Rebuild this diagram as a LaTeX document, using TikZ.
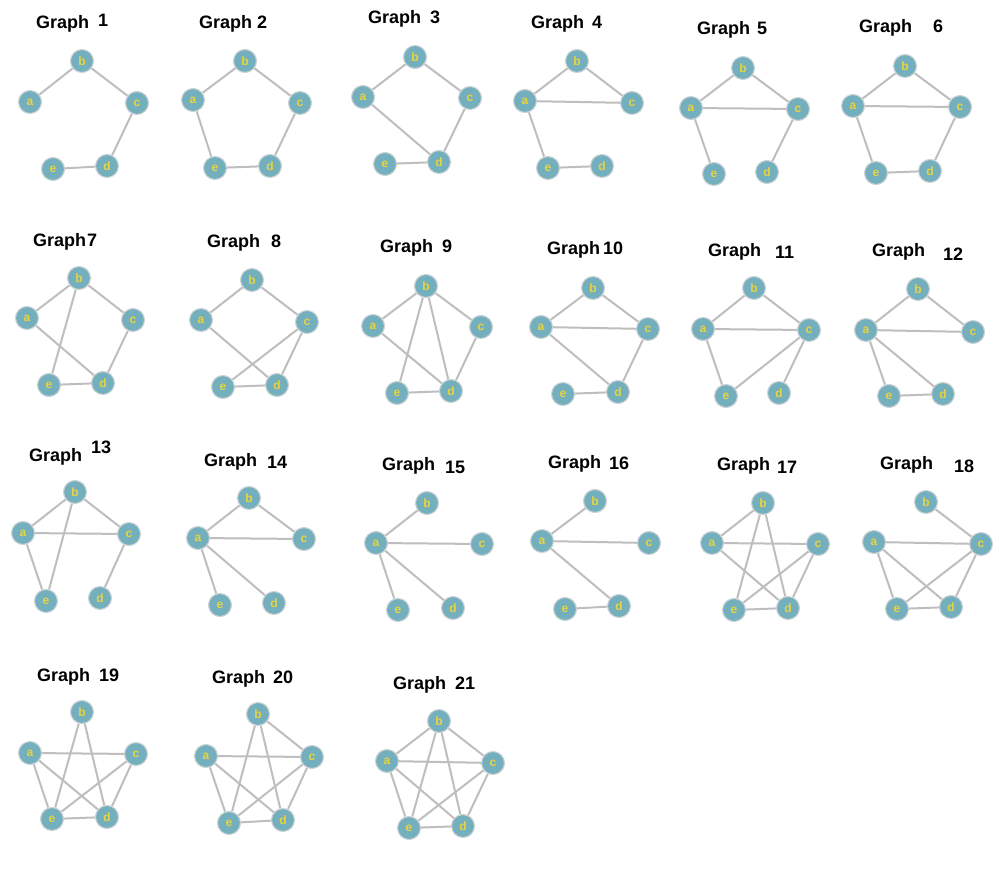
\documentclass[tikz,border=0pt]{standalone}
\usepackage{fontspec}
\setmainfont{Liberation Sans}
\setsansfont{Liberation Sans}
\definecolor{vtxfill}{RGB}{116,175,189}
\definecolor{vtxline}{RGB}{205,210,214}
\definecolor{vtxtext}{RGB}{232,212,62}
\definecolor{edgegray}{RGB}{190,190,190}
\tikzset{
    vtx/.style={circle,fill=vtxfill,draw=vtxline,line width=1.1pt,minimum size=23pt,inner sep=0pt,
        text=vtxtext,font=\fontsize{12}{12}\selectfont\bfseries},
    edge/.style={draw=edgegray,line width=2pt},
    ttl/.style={anchor=base west,inner sep=0pt,font=\fontsize{18}{20}\selectfont\bfseries}
}
\newcommand\PentaGraph[7]{%
    \node[vtx] (#1a) at #2 {a};
    \node[vtx] (#1b) at #3 {b};
    \node[vtx] (#1c) at #4 {c};
    \node[vtx] (#1d) at #5 {d};
    \node[vtx] (#1e) at #6 {e};
    \foreach \u/\v in {#7} \draw[edge] (#1\u) -- (#1\v);
}
\newcommand\GraphTitle[3]{%
    \node[ttl] (title#3) at #1 {Graph};
    \node[ttl] (num#3) at #2 {#3};
}
\begin{document}
\begin{tikzpicture}[x=1pt,y=-1pt]
    \useasboundingbox[fill=white] (0,0) rectangle (1000,874);
    % row 1
    \GraphTitle{(36,29)}{(98,27)}{1}
    \PentaGraph{g1}{(30,102)}{(82,61)}{(137,103)}{(107,166)}{(53,169)}{a/b,b/c,c/d,d/e}
    \GraphTitle{(199,29)}{(257,29)}{2}
    \PentaGraph{g2}{(193,100)}{(245,61)}{(300,103)}{(270,166)}{(215,168)}{a/b,b/c,c/d,d/e,e/a}
    \GraphTitle{(368,24)}{(430,24)}{3}
    \PentaGraph{g3}{(363,97)}{(415,57)}{(470,98)}{(439,162)}{(385,164)}{a/b,b/c,c/d,a/d,e/d}
    \GraphTitle{(531,29)}{(592,29)}{4}
    \PentaGraph{g4}{(525,101)}{(577,61)}{(632,103)}{(602,166)}{(548,168)}{a/b,b/c,a/c,a/e,e/d}
    \GraphTitle{(697,35)}{(757,35)}{5}
    \PentaGraph{g5}{(691,108)}{(743,68)}{(798,109)}{(767,172)}{(714,174)}{a/b,b/c,a/c,a/e,c/d}
    \GraphTitle{(859,33)}{(933,33)}{6}
    \PentaGraph{g6}{(853,106)}{(905,66)}{(960,107)}{(930,171)}{(876,173)}{a/b,b/c,a/c,a/e,e/d,d/c}
    % row 2
    \GraphTitle{(33,247)}{(87,247)}{7}
    \PentaGraph{g7}{(27,318)}{(79,278)}{(133,320)}{(103,383)}{(49,385)}{a/b,b/c,c/d,a/d,b/e,e/d}
    \GraphTitle{(207,248)}{(271,248)}{8}
    \PentaGraph{g8}{(201,320)}{(252,280)}{(307,322)}{(277,385)}{(223,387)}{a/b,b/c,c/d,a/d,c/e,e/d}
    \GraphTitle{(380,253)}{(442,253)}{9}
    \PentaGraph{g9}{(373,326)}{(426,286)}{(481,327)}{(451,391)}{(397,393)}{a/b,b/c,c/d,a/d,b/e,b/d,e/d}
    \GraphTitle{(547,255)}{(603,255)}{10}
    \PentaGraph{g10}{(541,327)}{(593,288)}{(648,329)}{(618,392)}{(563,394)}{a/b,b/c,a/c,c/d,a/d,e/d}
    \GraphTitle{(708,257)}{(775,259)}{11}
    \PentaGraph{g11}{(703,329)}{(754,288)}{(809,330)}{(779,393)}{(726,396)}{a/b,b/c,a/c,a/e,c/e,c/d}
    \GraphTitle{(872,257)}{(943,261)}{12}
    \PentaGraph{g12}{(866,330)}{(918,289)}{(973,332)}{(943,394)}{(889,396)}{a/b,b/c,a/c,a/e,a/d,e/d}
    % row 3
    \GraphTitle{(29,461)}{(91,453)}{13}
    \PentaGraph{g13}{(23,533)}{(75,492)}{(129,534)}{(100,598)}{(46,601)}{a/b,b/c,a/c,a/e,b/e,c/d}
    \GraphTitle{(204,466)}{(267,468)}{14}
    \PentaGraph{g14}{(198,538)}{(249,498)}{(304,539)}{(274,603)}{(220,605)}{a/b,b/c,a/c,a/e,a/d}
    \GraphTitle{(382,470)}{(445,473)}{15}
    \PentaGraph{g15}{(376,543)}{(427,503)}{(482,544)}{(453,608)}{(398,610)}{a/b,a/c,a/e,a/d}
    \GraphTitle{(548,468)}{(609,469)}{16}
    \PentaGraph{g16}{(542,541)}{(595,501)}{(649,543)}{(619,606)}{(565,609)}{a/b,a/c,a/d,e/d}
    \GraphTitle{(717,470)}{(777,473)}{17}
    \PentaGraph{g17}{(712,543)}{(763,503)}{(818,544)}{(788,608)}{(734,610)}{a/b,a/c,a/d,b/e,b/d,c/e,c/d,e/d}
    \GraphTitle{(880,469)}{(954,472)}{18}
    \PentaGraph{g18}{(874,542)}{(926,502)}{(981,544)}{(951,607)}{(897,609)}{b/c,a/c,a/e,a/d,c/e,c/d,e/d}
    % row 4
    \GraphTitle{(37,681)}{(99,681)}{19}
    \PentaGraph{g19}{(30,753)}{(82,712)}{(136,754)}{(107,817)}{(52,819)}{a/c,a/e,a/d,b/e,b/d,c/e,c/d,e/d}
    \GraphTitle{(212,683)}{(273,683)}{20}
    \PentaGraph{g20}{(206,756)}{(258,714)}{(312,757)}{(283,820)}{(229,823)}{b/c,a/c,a/e,a/d,b/e,b/d,c/e,c/d,e/d}
    \GraphTitle{(393,689)}{(455,689)}{21}
    \PentaGraph{g21}{(387,761)}{(439,721)}{(493,763)}{(463,826)}{(409,828)}{a/b,a/c,a/d,a/e,b/c,b/d,b/e,c/d,c/e,d/e}
\end{tikzpicture}
\end{document}
